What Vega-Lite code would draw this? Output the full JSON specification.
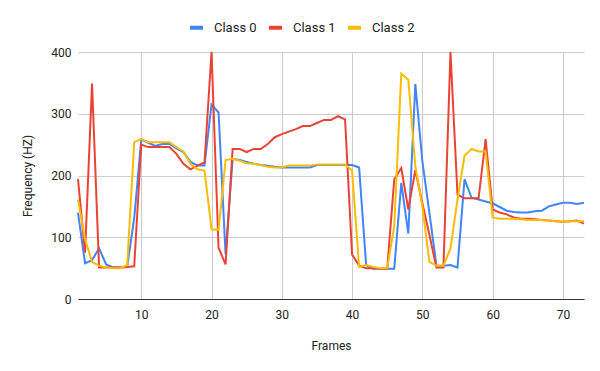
{
"$schema": "https://vega.github.io/schema/vega-lite/v6.json",
"width": 506, "height": 247,
"autosize": {"type": "none"},
"padding": {"left": 78, "top": 52, "right": 16, "bottom": 72},
"config": {
  "view": {"stroke": null},
  "font": "Roboto",
  "axis": {"labelFont": "Roboto", "labelFontSize": 12, "labelColor": "#222222", "titleFont": "Roboto", "titleFontSize": 12, "titleFontWeight": "normal", "titleColor": "#222222", "gridColor": "#cccccc", "gridWidth": 1, "ticks": false}
},
"data": {"values": [
{"frame":1,"series":"Class 0","value":140},{"frame":2,"series":"Class 0","value":58},{"frame":3,"series":"Class 0","value":63},{"frame":4,"series":"Class 0","value":82},{"frame":5,"series":"Class 0","value":56},{"frame":6,"series":"Class 0","value":51},{"frame":7,"series":"Class 0","value":51},{"frame":8,"series":"Class 0","value":52},{"frame":9,"series":"Class 0","value":131},{"frame":10,"series":"Class 0","value":258},
{"frame":11,"series":"Class 0","value":253},{"frame":12,"series":"Class 0","value":248},{"frame":13,"series":"Class 0","value":251},{"frame":14,"series":"Class 0","value":251},{"frame":15,"series":"Class 0","value":244},{"frame":16,"series":"Class 0","value":238},{"frame":17,"series":"Class 0","value":222},{"frame":18,"series":"Class 0","value":216},{"frame":19,"series":"Class 0","value":216},{"frame":20,"series":"Class 0","value":315},
{"frame":21,"series":"Class 0","value":302},{"frame":22,"series":"Class 0","value":72},{"frame":23,"series":"Class 0","value":227},{"frame":24,"series":"Class 0","value":225},{"frame":25,"series":"Class 0","value":222},{"frame":26,"series":"Class 0","value":219},{"frame":27,"series":"Class 0","value":217},{"frame":28,"series":"Class 0","value":216},{"frame":29,"series":"Class 0","value":214},{"frame":30,"series":"Class 0","value":213},
{"frame":31,"series":"Class 0","value":213},{"frame":32,"series":"Class 0","value":213},{"frame":33,"series":"Class 0","value":213},{"frame":34,"series":"Class 0","value":213},{"frame":35,"series":"Class 0","value":217},{"frame":36,"series":"Class 0","value":217},{"frame":37,"series":"Class 0","value":217},{"frame":38,"series":"Class 0","value":217},{"frame":39,"series":"Class 0","value":217},{"frame":40,"series":"Class 0","value":217},
{"frame":41,"series":"Class 0","value":213},{"frame":42,"series":"Class 0","value":55},{"frame":43,"series":"Class 0","value":49},{"frame":44,"series":"Class 0","value":49},{"frame":45,"series":"Class 0","value":49},{"frame":46,"series":"Class 0","value":49},{"frame":47,"series":"Class 0","value":188},{"frame":48,"series":"Class 0","value":106},{"frame":49,"series":"Class 0","value":348},{"frame":50,"series":"Class 0","value":223},
{"frame":51,"series":"Class 0","value":140},{"frame":52,"series":"Class 0","value":54},{"frame":53,"series":"Class 0","value":54},{"frame":54,"series":"Class 0","value":55},{"frame":55,"series":"Class 0","value":51},{"frame":56,"series":"Class 0","value":194},{"frame":57,"series":"Class 0","value":164},{"frame":58,"series":"Class 0","value":161},{"frame":59,"series":"Class 0","value":158},{"frame":60,"series":"Class 0","value":155},
{"frame":61,"series":"Class 0","value":149},{"frame":62,"series":"Class 0","value":143},{"frame":63,"series":"Class 0","value":141},{"frame":64,"series":"Class 0","value":140},{"frame":65,"series":"Class 0","value":140},{"frame":66,"series":"Class 0","value":142},{"frame":67,"series":"Class 0","value":143},{"frame":68,"series":"Class 0","value":150},{"frame":69,"series":"Class 0","value":153},{"frame":70,"series":"Class 0","value":156},
{"frame":71,"series":"Class 0","value":156},{"frame":72,"series":"Class 0","value":154},{"frame":73,"series":"Class 0","value":156},
{"frame":1,"series":"Class 1","value":194},{"frame":2,"series":"Class 1","value":75},{"frame":3,"series":"Class 1","value":349},{"frame":4,"series":"Class 1","value":51},{"frame":5,"series":"Class 1","value":51},{"frame":6,"series":"Class 1","value":51},{"frame":7,"series":"Class 1","value":51},{"frame":8,"series":"Class 1","value":52},{"frame":9,"series":"Class 1","value":53},{"frame":10,"series":"Class 1","value":250},
{"frame":11,"series":"Class 1","value":246},{"frame":12,"series":"Class 1","value":246},{"frame":13,"series":"Class 1","value":246},{"frame":14,"series":"Class 1","value":246},{"frame":15,"series":"Class 1","value":235},{"frame":16,"series":"Class 1","value":219},{"frame":17,"series":"Class 1","value":210},{"frame":18,"series":"Class 1","value":216},{"frame":19,"series":"Class 1","value":221},{"frame":20,"series":"Class 1","value":400},
{"frame":21,"series":"Class 1","value":83},{"frame":22,"series":"Class 1","value":56},{"frame":23,"series":"Class 1","value":243},{"frame":24,"series":"Class 1","value":243},{"frame":25,"series":"Class 1","value":238},{"frame":26,"series":"Class 1","value":243},{"frame":27,"series":"Class 1","value":243},{"frame":28,"series":"Class 1","value":251},{"frame":29,"series":"Class 1","value":262},{"frame":30,"series":"Class 1","value":267},
{"frame":31,"series":"Class 1","value":271},{"frame":32,"series":"Class 1","value":275},{"frame":33,"series":"Class 1","value":280},{"frame":34,"series":"Class 1","value":280},{"frame":35,"series":"Class 1","value":285},{"frame":36,"series":"Class 1","value":290},{"frame":37,"series":"Class 1","value":290},{"frame":38,"series":"Class 1","value":296},{"frame":39,"series":"Class 1","value":291},{"frame":40,"series":"Class 1","value":72},
{"frame":41,"series":"Class 1","value":54},{"frame":42,"series":"Class 1","value":50},{"frame":43,"series":"Class 1","value":50},{"frame":44,"series":"Class 1","value":49},{"frame":45,"series":"Class 1","value":49},{"frame":46,"series":"Class 1","value":194},{"frame":47,"series":"Class 1","value":212},{"frame":48,"series":"Class 1","value":145},{"frame":49,"series":"Class 1","value":209},{"frame":50,"series":"Class 1","value":155},
{"frame":51,"series":"Class 1","value":104},{"frame":52,"series":"Class 1","value":51},{"frame":53,"series":"Class 1","value":51},{"frame":54,"series":"Class 1","value":400},{"frame":55,"series":"Class 1","value":169},{"frame":56,"series":"Class 1","value":163},{"frame":57,"series":"Class 1","value":163},{"frame":58,"series":"Class 1","value":163},{"frame":59,"series":"Class 1","value":259},{"frame":60,"series":"Class 1","value":145},
{"frame":61,"series":"Class 1","value":140},{"frame":62,"series":"Class 1","value":137},{"frame":63,"series":"Class 1","value":132},{"frame":64,"series":"Class 1","value":130},{"frame":65,"series":"Class 1","value":130},{"frame":66,"series":"Class 1","value":129},{"frame":67,"series":"Class 1","value":128},{"frame":68,"series":"Class 1","value":127},{"frame":69,"series":"Class 1","value":126},{"frame":70,"series":"Class 1","value":125},
{"frame":71,"series":"Class 1","value":126},{"frame":72,"series":"Class 1","value":127},{"frame":73,"series":"Class 1","value":122},
{"frame":1,"series":"Class 2","value":161},{"frame":2,"series":"Class 2","value":97},{"frame":3,"series":"Class 2","value":60},{"frame":4,"series":"Class 2","value":54},{"frame":5,"series":"Class 2","value":51},{"frame":6,"series":"Class 2","value":50},{"frame":7,"series":"Class 2","value":50},{"frame":8,"series":"Class 2","value":55},{"frame":9,"series":"Class 2","value":254},{"frame":10,"series":"Class 2","value":259},
{"frame":11,"series":"Class 2","value":254},{"frame":12,"series":"Class 2","value":254},{"frame":13,"series":"Class 2","value":254},{"frame":14,"series":"Class 2","value":254},{"frame":15,"series":"Class 2","value":246},{"frame":16,"series":"Class 2","value":239},{"frame":17,"series":"Class 2","value":219},{"frame":18,"series":"Class 2","value":210},{"frame":19,"series":"Class 2","value":208},{"frame":20,"series":"Class 2","value":113},
{"frame":21,"series":"Class 2","value":112},{"frame":22,"series":"Class 2","value":225},{"frame":23,"series":"Class 2","value":227},{"frame":24,"series":"Class 2","value":224},{"frame":25,"series":"Class 2","value":220},{"frame":26,"series":"Class 2","value":219},{"frame":27,"series":"Class 2","value":217},{"frame":28,"series":"Class 2","value":214},{"frame":29,"series":"Class 2","value":213},{"frame":30,"series":"Class 2","value":213},
{"frame":31,"series":"Class 2","value":216},{"frame":32,"series":"Class 2","value":216},{"frame":33,"series":"Class 2","value":216},{"frame":34,"series":"Class 2","value":216},{"frame":35,"series":"Class 2","value":218},{"frame":36,"series":"Class 2","value":218},{"frame":37,"series":"Class 2","value":218},{"frame":38,"series":"Class 2","value":218},{"frame":39,"series":"Class 2","value":218},{"frame":40,"series":"Class 2","value":208},
{"frame":41,"series":"Class 2","value":52},{"frame":42,"series":"Class 2","value":55},{"frame":43,"series":"Class 2","value":52},{"frame":44,"series":"Class 2","value":50},{"frame":45,"series":"Class 2","value":50},{"frame":46,"series":"Class 2","value":118},{"frame":47,"series":"Class 2","value":365},{"frame":48,"series":"Class 2","value":355},{"frame":49,"series":"Class 2","value":215},{"frame":50,"series":"Class 2","value":150},
{"frame":51,"series":"Class 2","value":60},{"frame":52,"series":"Class 2","value":54},{"frame":53,"series":"Class 2","value":54},{"frame":54,"series":"Class 2","value":82},{"frame":55,"series":"Class 2","value":161},{"frame":56,"series":"Class 2","value":232},{"frame":57,"series":"Class 2","value":243},{"frame":58,"series":"Class 2","value":239},{"frame":59,"series":"Class 2","value":239},{"frame":60,"series":"Class 2","value":132},
{"frame":61,"series":"Class 2","value":130},{"frame":62,"series":"Class 2","value":130},{"frame":63,"series":"Class 2","value":130},{"frame":64,"series":"Class 2","value":129},{"frame":65,"series":"Class 2","value":128},{"frame":66,"series":"Class 2","value":128},{"frame":67,"series":"Class 2","value":128},{"frame":68,"series":"Class 2","value":127},{"frame":69,"series":"Class 2","value":126},{"frame":70,"series":"Class 2","value":125},
{"frame":71,"series":"Class 2","value":126},{"frame":72,"series":"Class 2","value":126},{"frame":73,"series":"Class 2","value":126}
]},
"mark": {"type": "line", "strokeWidth": 2},
"encoding": {
  "x": {"field": "frame", "type": "quantitative", "scale": {"domain": [1, 73], "nice": false, "zero": false},
        "axis": {"values": [10, 20, 30, 40, 50, 60, 70], "title": "Frames", "grid": true, "domain": true, "domainColor": "#333333", "domainWidth": 1, "labelPadding": 10, "titlePadding": 20}},
  "y": {"field": "value", "type": "quantitative", "scale": {"domain": [0, 400], "nice": false},
        "axis": {"values": [0, 100, 200, 300, 400], "title": "Frequency (HZ)", "domain": false, "labelPadding": 7, "titlePadding": 16}},
  "color": {"field": "series", "type": "nominal",
        "scale": {"domain": ["Class 0", "Class 1", "Class 2"], "range": ["#4285F4", "#EA4335", "#FBBC04"]},
        "legend": {"title": null, "orient": "none", "direction": "horizontal", "legendX": 110, "legendY": -33, "padding": 0,
                   "symbolType": "stroke", "symbolSize": 169, "symbolStrokeWidth": 4,
                   "labelFont": "Roboto", "labelFontSize": 13, "labelColor": "#222222", "labelOffset": 9, "columnPadding": 4}}
}
}
